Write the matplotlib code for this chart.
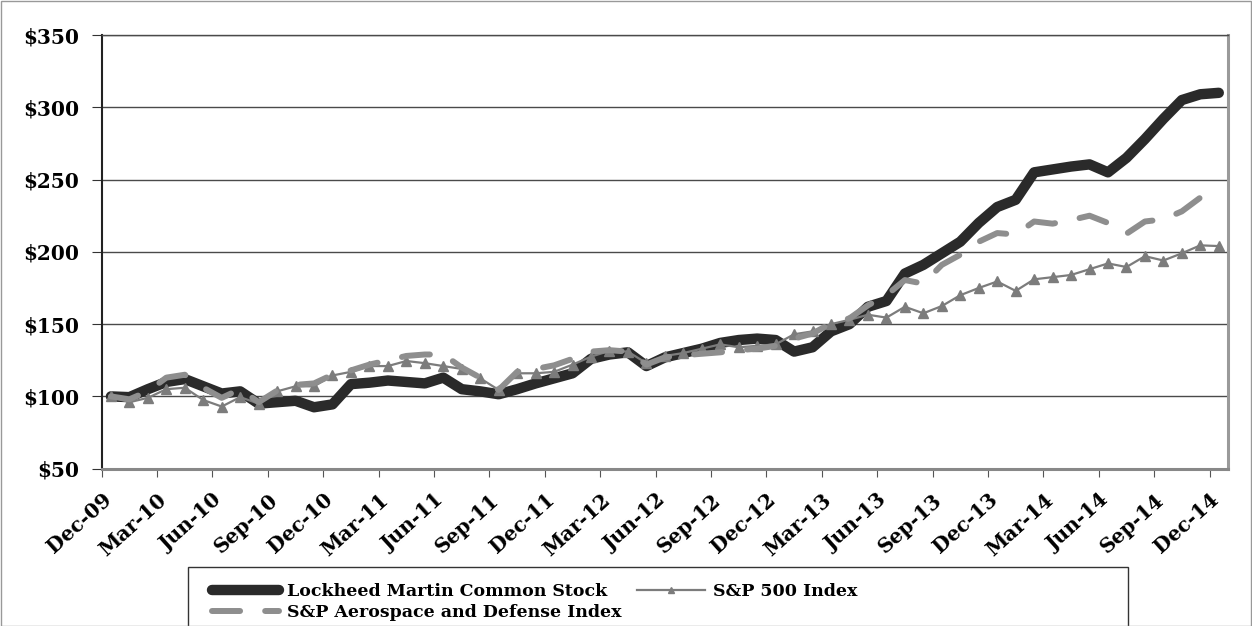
import numpy as np
import matplotlib.pyplot as plt
from matplotlib.patches import Rectangle
from matplotlib.lines import Line2D

# monthly values, Dec-09 .. Dec-14 (61 months), indexed to $100
lockheed = [100, 99.5, 105, 110, 112, 107, 102, 103.5, 95, 96,
            97, 92.5, 94.5, 108.5, 109.5, 111, 110, 109, 113, 105,
            103.5, 101.5, 105, 109, 112.5, 116, 126, 129, 130.5, 121,
            127, 130, 133, 137, 139, 140, 139, 131, 134, 145,
            150, 162, 166, 185, 191, 199, 207, 220, 231, 236,
            255, 257, 259, 260.5, 255, 265, 278, 292, 305, 309,
            310]
sp500 = [100, 96, 99, 105, 106, 97.5, 93, 99.5, 95, 103.5,
         107, 107, 114.5, 117, 121, 121, 124.5, 123, 121, 119,
         112.5, 104.5, 116, 116, 117, 122, 127.5, 131.5, 131, 123,
         128, 130, 133, 136, 134, 135, 136, 143, 145, 150,
         153, 156.5, 154.5, 162, 157.5, 162.5, 170, 175, 179.5, 173,
         181, 182.5, 184, 188, 192, 189.5, 197, 194, 199, 204.5,
         204]
aero_def = [100, 98, 103.5, 113, 115, 106, 99, 105, 96, 104,
            108, 109, 115, 118, 122, 125, 128, 129, 129, 120,
            113, 104.5, 117, 119, 121.5, 126, 131, 132, 131, 122,
            127, 128.5, 129.5, 130.5, 132, 133, 135, 140, 143.5, 150.5,
            154, 163, 170, 180.5, 178, 191, 198, 207, 213, 212,
            221, 219.5, 222, 225, 220, 212.5, 221, 222.5, 228, 237.5,
            238]
tick_labels = ["Dec-09", "Mar-10", "Jun-10", "Sep-10", "Dec-10", "Mar-11", "Jun-11",
               "Sep-11", "Dec-11", "Mar-12", "Jun-12", "Sep-12", "Dec-12", "Mar-13",
               "Jun-13", "Sep-13", "Dec-13", "Mar-14", "Jun-14", "Sep-14", "Dec-14"]
y_ticks = [50, 100, 150, 200, 250, 300, 350]

W, H = 1252, 626
font = dict(family="DejaVu Serif", weight="bold", size=14.5)

fig = plt.figure(figsize=(W / 100, H / 100), dpi=100)
ax = fig.add_axes([101.7 / W, 1 - 468.7 / H, (1228 - 101.7) / W, (468.7 - 35) / H])

x = np.arange(len(lockheed))
ax.plot(x, lockheed, color="#2a2a2a", lw=7.5, solid_capstyle="round",
        solid_joinstyle="round", zorder=3)
ax.plot(x, sp500, color="#7c7c7c", lw=1.6, marker="^", ms=7, zorder=4)
ax.plot(x, aero_def, color="#8e8e8e", lw=4.3, dashes=(4.7, 4.2),
        dash_capstyle="round", dash_joinstyle="round", zorder=5)

ax.set_xlim(-0.5, len(lockheed) - 0.5)
ax.set_ylim(50, 350)
ax.set_xticks(np.arange(0, len(lockheed), 3) - 0.5)
ax.set_xticklabels(tick_labels, rotation=42, ha="right", va="top",
                   rotation_mode="anchor", **font)
ax.set_yticks(y_ticks)
ax.set_yticklabels([f"${v}" for v in y_ticks], **font)
ax.tick_params(axis="x", length=6, color="#555555", pad=9)
ax.tick_params(axis="y", length=7, color="#333333", pad=9)

ax.yaxis.grid(True, color="#4a4a4a", lw=1)
ax.set_axisbelow(True)
ax.spines["left"].set_color("#222222")
ax.spines["left"].set_linewidth(1.5)
ax.spines["bottom"].set_color("#888888")
ax.spines["bottom"].set_linewidth(2.2)
ax.spines["right"].set_color("#9a9a9a")
ax.spines["right"].set_linewidth(2.2)
ax.spines["top"].set_color("#4a4a4a")
ax.spines["top"].set_linewidth(1)

# legend (box runs past the bottom edge like the reference)
handles = [
    Line2D([], [], color="#2a2a2a", lw=7.5, solid_capstyle="round"),
    Line2D([], [], color="#8e8e8e", lw=4.3, dashes=(4.7, 4.2), dash_capstyle="round"),
    Line2D([], [], color="#7c7c7c", lw=1.6, marker="^", ms=5),
]
labels = ["Lockheed Martin Common Stock", "S&P Aerospace and Defense Index", "S&P 500 Index"]
fig.legend(handles, labels, loc="upper left", bbox_to_anchor=(203 / W, 1 - 574 / H),
           ncol=2, frameon=False, handlelength=3.9, handletextpad=0.45,
           columnspacing=0.9, labelspacing=0.25, borderpad=0,
           prop=dict(family="DejaVu Serif", weight="bold", size=12.5))
fig.patches.append(Rectangle((188 / W, -0.05), (1128 - 188) / W, 0.05 + 1 - 567 / H,
                             transform=fig.transFigure, fill=False,
                             ec="#333333", lw=1))
fig.patches.append(Rectangle((0.5 / W, 0.5 / H), 1 - 1.5 / W, 1 - 1.5 / H,
                             transform=fig.transFigure, fill=False,
                             ec="#999999", lw=1))

fig.savefig("out.png", dpi=100)
